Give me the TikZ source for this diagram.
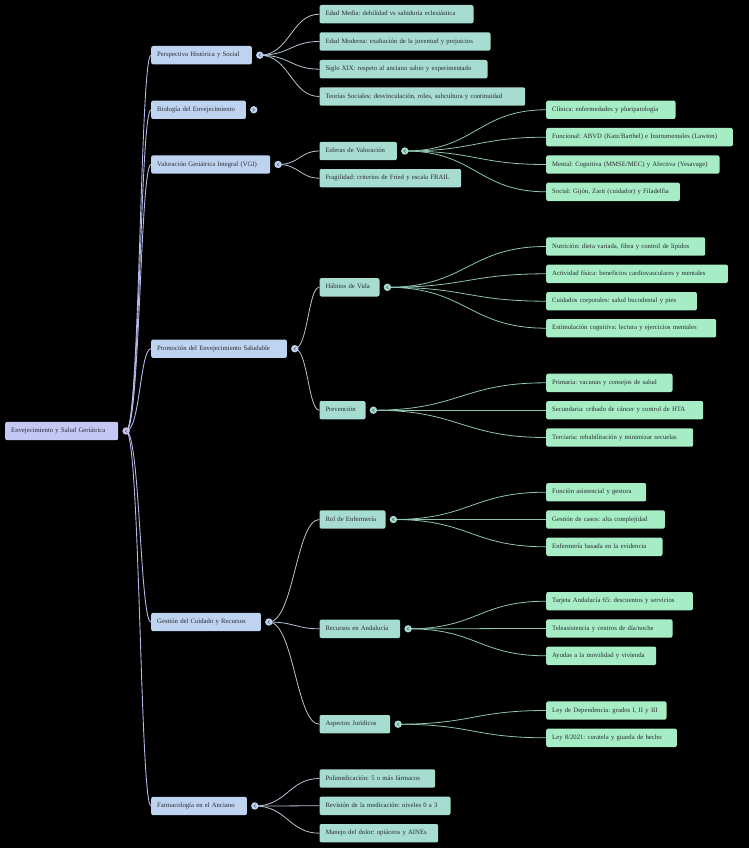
\documentclass[tikz,border=0pt]{standalone}
\usepackage{fontspec}
\setmainfont{Liberation Serif}
\frenchspacing
\definecolor{rootc}{HTML}{C5C8F5}
\definecolor{lonec}{HTML}{BED3F0}
\definecolor{ltwoc}{HTML}{A6DDD0}
\definecolor{lthreec}{HTML}{A6EDC5}
\definecolor{edgezero}{HTML}{B4B8E8}
\definecolor{edgeone}{HTML}{B8C4D4}
\definecolor{edgetwo}{HTML}{8FC4B4}
\definecolor{txtc}{HTML}{2B2B33}
\definecolor{symc}{HTML}{5A6478}
\pgfdeclarelayer{back}
\pgfdeclarelayer{bg}
\pgfsetlayers{back,bg,main}
\tikzset{
  box/.style={anchor=west, rounded corners=2pt, minimum height=18.4pt, inner xsep=6pt, inner ysep=0pt,
    align=left, text=txtc, font=\fontsize{6.7}{8}\selectfont, text height=4.7pt, text depth=1.5pt},
  rootbox/.style={box, fill=rootc},
  onebox/.style={box, fill=lonec},
  twobox/.style={box, fill=ltwoc},
  threebox/.style={box, fill=lthreec},
  circ/.style={circle, minimum size=7.4pt, inner sep=0pt},
  chev/.style={draw=symc, line width=0.55pt, line cap=round, line join=round},
  ezero/.style={draw=edgezero, line width=0.9pt},
  eone/.style={draw=edgeone, line width=0.8pt},
  etwo/.style={draw=edgetwo, line width=0.8pt},
}
\newcommand\mbx[6]{\node[#2, text width=#5pt] (#1) at (#3,#4) {#6};}
% #3 = 1 for "<", -1 for ">"
\newcommand\mcirc[3]{\node[circ, fill=#2] (#1c) at ([xshift=7.7pt]#1.east) {};
  \draw[chev] ([shift={(#3*1.1,-1.5)}]#1c.center) -- ([shift={(-#3*1.1,0)}]#1c.center) -- ([shift={(#3*1.1,1.5)}]#1c.center);}
\begin{document}
\begin{tikzpicture}[x=1pt,y=-1pt]
\begin{pgfonlayer}{back}
\fill[black] (0,0) rectangle (749,848);
\end{pgfonlayer}
\useasboundingbox (0,0) rectangle (749,848);

% root
\mbx{R}{rootbox}{5}{431}{101}{Envejecimiento y Salud Geriátrica}
% level 1
\mbx{P}{onebox}{151}{55.2}{88.7}{Perspectiva Histórica y Social}
\mbx{B}{onebox}{151}{109.8}{82.7}{Biología del Envejecimiento}
\mbx{V}{onebox}{151}{164.5}{107}{Valoración Geriátrica Integral (VGI)}
\mbx{Pr}{onebox}{151}{348.7}{123.7}{Promoción del Envejecimiento Saludable}
\mbx{G}{onebox}{151}{622}{97.7}{Gestión del Cuidado y Recursos}
\mbx{F}{onebox}{151}{806}{83.7}{Farmacología en el Anciano}
% level 2
\mbx{EM}{twobox}{319.3}{14.2}{142}{Edad Media: debilidad vs sabiduría eclesiástica}
\mbx{EMo}{twobox}{319.3}{41.5}{159}{Edad Moderna: exaltación de la juventud y prejuicios}
\mbx{SXIX}{twobox}{319.3}{69.2}{156}{Siglo XIX: respeto al anciano sabio y experimentado}
\mbx{TS}{twobox}{319.3}{96.5}{193.7}{Teorías Sociales: desvinculación, roles, subcultura y continuidad}
\mbx{EV}{twobox}{319.3}{151}{65.4}{Esferas de Valoración}
\mbx{Fr}{twobox}{319.3}{178.2}{129.7}{Fragilidad: criterios de Fried y escala FRAIL}
\mbx{HV}{twobox}{319.3}{287.3}{48}{Hábitos de Vida}
\mbx{Pv}{twobox}{319.3}{410.2}{34}{Prevención}
\mbx{RE}{twobox}{319.3}{519.5}{54}{Rol de Enfermería}
\mbx{RA}{twobox}{319.3}{628.8}{68.7}{Recursos en Andalucía}
\mbx{AJ}{twobox}{319.3}{724.2}{58.7}{Aspectos Jurídicos}
\mbx{Po}{twobox}{319.3}{778.5}{103.7}{Polimedicación: 5 o más fármacos}
\mbx{Rv}{twobox}{319.3}{805.8}{119}{Revisión de la medicación: niveles 0 a 3}
\mbx{Mj}{twobox}{319.3}{833.2}{106.7}{Manejo del dolor: opiáceos y AINEs}
% level 3
\mbx{Cl}{threebox}{546}{109.8}{117.3}{Clínica: enfermedades y pluripatología}
\mbx{Fu}{threebox}{546}{137.2}{174.7}{Funcional: ABVD (Katz/Barthel) e Instrumentales (Lawton)}
\mbx{Me}{threebox}{546}{164.5}{161.3}{Mental: Cognitiva (MMSE/MEC) y Afectiva (Yesavage)}
\mbx{So}{threebox}{546}{191.8}{121.7}{Social: Gijón, Zarit (cuidador) y Filadelfia}
\mbx{Nu}{threebox}{546}{246.5}{147}{Nutrición: dieta variada, fibra y control de lípidos}
\mbx{Ac}{threebox}{546}{273.8}{169.7}{Actividad física: beneficios cardiovasculares y mentales}
\mbx{Cu}{threebox}{546}{301.2}{138.7}{Cuidados corporales: salud bucodental y pies}
\mbx{Es}{threebox}{546}{328.2}{158}{Estimulación cognitiva: lectura y ejercicios mentales}
\mbx{Pri}{threebox}{546}{382.8}{114.3}{Primaria: vacunas y consejos de salud}
\mbx{Sec}{threebox}{546}{410.2}{145}{Secundaria: cribado de cáncer y control de HTA}
\mbx{Ter}{threebox}{546}{437.5}{135}{Terciaria: rehabilitación y minimizar secuelas}
\mbx{Fun}{threebox}{546}{492.2}{88}{Función asistencial y gestora}
\mbx{Gcas}{threebox}{546}{519.5}{106.7}{Gestión de casos: alta complejidad}
\mbx{Eb}{threebox}{546}{546.8}{104.3}{Enfermería basada en la evidencia}
\mbx{Ta}{threebox}{546}{601.2}{134.7}{Tarjeta Andalucía 65: descuentos y servicios}
\mbx{Te}{threebox}{546}{628.5}{114.3}{Teleasistencia y centros de día/noche}
\mbx{Ay}{threebox}{546}{655.8}{98}{Ayudas a la movilidad y vivienda}
\mbx{LD}{threebox}{546}{710.5}{108.3}{Ley de Dependencia: grados I, II y III}
\mbx{Ley}{threebox}{546}{737.8}{118.7}{Ley 8/2021: curatela y guarda de hecho}

% circles
\mcirc{R}{rootc}{1}
\mcirc{P}{lonec}{1}
\mcirc{B}{lonec}{-1}
\mcirc{V}{lonec}{1}
\mcirc{Pr}{lonec}{1}
\mcirc{G}{lonec}{1}
\mcirc{F}{lonec}{1}
\mcirc{EV}{ltwoc}{1}
\mcirc{HV}{ltwoc}{1}
\mcirc{Pv}{ltwoc}{1}
\mcirc{RE}{ltwoc}{1}
\mcirc{RA}{ltwoc}{1}
\mcirc{AJ}{ltwoc}{1}

\begin{pgfonlayer}{bg}
% edges from root
\foreach \t in {P,B,V,Pr,G,F}
  \draw[ezero] (Rc.center) .. controls +(14,0) and +(-11,0) .. (\t.west);
% edges level 1 -> level 2
\foreach \t in {EM,EMo,SXIX,TS}
  \draw[eone] (Pc.center) .. controls +(30,0) and +(-28,0) .. (\t.west);
\foreach \t in {EV,Fr}
  \draw[eone] (Vc.center) .. controls +(21,0) and +(-19,0) .. (\t.west);
\foreach \t in {HV,Pv}
  \draw[eone] (Prc.center) .. controls +(13,0) and +(-11,0) .. (\t.west);
\foreach \t in {RE,RA,AJ}
  \draw[eone] (Gc.center) .. controls +(25,0) and +(-23,0) .. (\t.west);
\foreach \t in {Po,Rv,Mj}
  \draw[eone] (Fc.center) .. controls +(32,0) and +(-30,0) .. (\t.west);
% edges level 2 -> level 3
\foreach \t in {Cl,Fu,Me,So}
  \draw[etwo] (EVc.center) .. controls +(70,0) and +(-68,0) .. (\t.west);
\foreach \t in {Nu,Ac,Cu,Es}
  \draw[etwo] (HVc.center) .. controls +(79,0) and +(-77,0) .. (\t.west);
\foreach \t in {Pri,Sec,Ter}
  \draw[etwo] (Pvc.center) .. controls +(86,0) and +(-84,0) .. (\t.west);
\foreach \t in {Fun,Gcas,Eb}
  \draw[etwo] (REc.center) .. controls +(76,0) and +(-74,0) .. (\t.west);
\foreach \t in {Ta,Te,Ay}
  \draw[etwo] (RAc.center) .. controls +(69,0) and +(-67,0) .. (\t.west);
\foreach \t in {LD,Ley}
  \draw[etwo] (AJc.center) .. controls +(74,0) and +(-72,0) .. (\t.west);
\end{pgfonlayer}
\end{tikzpicture}
\end{document}
